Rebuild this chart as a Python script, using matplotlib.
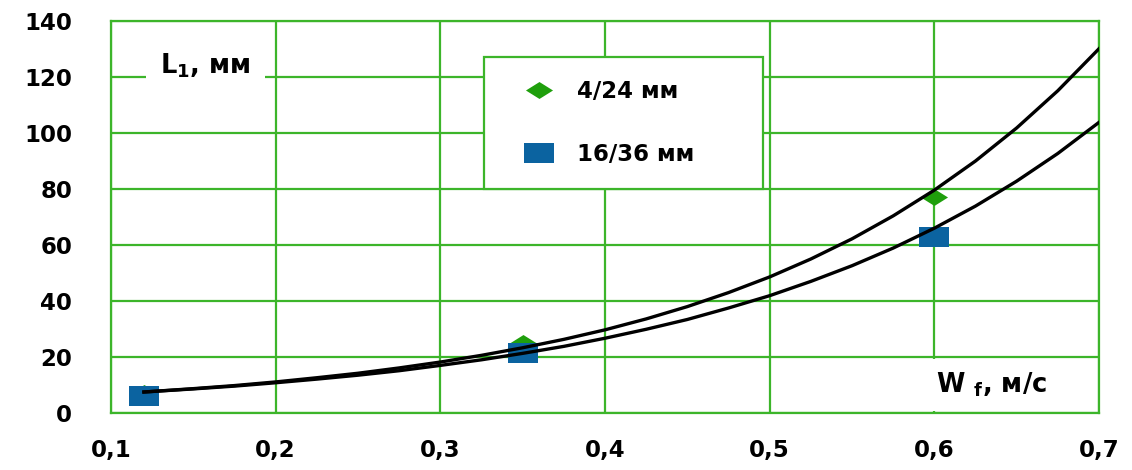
import matplotlib
matplotlib.use("Agg")
import matplotlib.pyplot as plt
from matplotlib.path import Path

# ---- data ----
x_points = [0.12, 0.35, 0.6]
y_4_24 = [7.0, 25.0, 77.0]      # green diamonds
y_16_36 = [6.0, 21.5, 63.0]     # blue squares

# fitted curves
x_curve = [0.12, 0.15, 0.175, 0.2, 0.225, 0.25, 0.275, 0.3, 0.325, 0.35, 0.375, 0.4,
           0.425, 0.45, 0.475, 0.5, 0.525, 0.55, 0.575, 0.6, 0.625, 0.65, 0.675, 0.7]
curve_4_24 = [7.5, 8.7, 9.8, 11.1, 12.6, 14.2, 16.1, 18.2, 20.6, 23.3, 26.3, 29.7,
              33.6, 38.0, 43.0, 48.6, 55.0, 62.2, 70.4, 79.6, 90.0, 101.8, 115.1, 130.1]
curve_16_36 = [7.5, 8.6, 9.6, 10.8, 12.1, 13.5, 15.1, 17.0, 19.0, 21.3, 23.8, 26.7,
               29.9, 33.4, 37.5, 41.9, 47.0, 52.6, 58.9, 66.0, 73.9, 82.8, 92.7, 103.8]

x_ticks = [0.1, 0.2, 0.3, 0.4, 0.5, 0.6, 0.7]
x_ticklabels = ["0,1", "0,2", "0,3", "0,4", "0,5", "0,6", "0,7"]
y_ticks = [0, 20, 40, 60, 80, 100, 120, 140]
y_ticklabels = ["0", "20", "40", "60", "80", "100", "120", "140"]

legend_labels = ["4/24 мм", "16/36 мм"]

# ---- style ----
GRID = "#3cb52a"
GREEN = "#1f9f0c"
BLUE = "#0b63a0"
FONT = "DejaVu Sans"
FS = 16.5

plt.rcParams["font.family"] = [FONT]
plt.rcParams["font.weight"] = "bold"
plt.rcParams["mathtext.fontset"] = "dejavusans"

rect_marker = Path([(-1.5, -1), (1.5, -1), (1.5, 1), (-1.5, 1), (-1.5, -1)],
                   [Path.MOVETO, Path.LINETO, Path.LINETO, Path.LINETO, Path.CLOSEPOLY])
diam_marker = Path([(-1.6, 0), (0, 1), (1.6, 0), (0, -1), (-1.6, 0)],
                   [Path.MOVETO, Path.LINETO, Path.LINETO, Path.LINETO, Path.CLOSEPOLY])

fig = plt.figure(figsize=(11.32, 4.70), dpi=100)
ax = fig.add_axes([111 / 1132, 1 - 413 / 470, 988 / 1132, 392 / 470])

ax.plot(x_points, y_4_24, linestyle="none", marker=diam_marker, markersize=19.5,
        color=GREEN, markeredgewidth=0, zorder=3, label=legend_labels[0])
ax.plot(x_points, y_16_36, linestyle="none", marker=rect_marker, markersize=21.5,
        color=BLUE, markeredgewidth=0, zorder=3.1, label=legend_labels[1])
ax.plot(x_curve, curve_4_24, color="black", lw=2.4, zorder=4)
ax.plot(x_curve, curve_16_36, color="black", lw=2.4, zorder=4)

ax.set_xlim(0.1, 0.7)
ax.set_ylim(0, 140)
ax.set_xticks(x_ticks)
ax.set_xticklabels(x_ticklabels)
ax.set_yticks(y_ticks)
ax.set_yticklabels(y_ticklabels)
ax.tick_params(axis="both", length=0, labelsize=FS)
ax.tick_params(axis="y", pad=28)
ax.tick_params(axis="x", pad=19)
for lab in ax.get_xticklabels() + ax.get_yticklabels():
    lab.set_fontweight("bold")

ax.grid(True, color=GRID, lw=1.6, zorder=1)
ax.set_axisbelow(True)
for sp in ax.spines.values():
    sp.set_color(GRID)
    sp.set_linewidth(1.6)

leg = ax.legend(loc="upper left", bbox_to_anchor=(0.3775, 0.577, 0.2825, 0.331),
                mode="expand", frameon=True, fancybox=False, framealpha=1,
                edgecolor=GRID, prop={"family": FONT, "weight": "bold", "size": FS},
                labelspacing=1.75, borderpad=1.0, handletextpad=0.25,
                handlelength=2.8, borderaxespad=0)
leg.get_frame().set_linewidth(1.6)
leg.set_zorder(5)

ax.annotate(r"L$_\mathbf{1}$, мм", xy=(160, 470 - 66), xycoords="figure pixels",
            fontsize=18.5, fontweight="bold", ha="left", va="center", zorder=6,
            bbox=dict(boxstyle="square,pad=0.55", fc="white", ec="none"))
ax.annotate(r"W $_\mathbf{f}$, м/с", xy=(936, 470 - 385), xycoords="figure pixels",
            fontsize=18.5, fontweight="bold", ha="left", va="center", zorder=6,
            bbox=dict(boxstyle="square,pad=0.45", fc="white", ec="none"))

fig.savefig("out.png", dpi=100)
